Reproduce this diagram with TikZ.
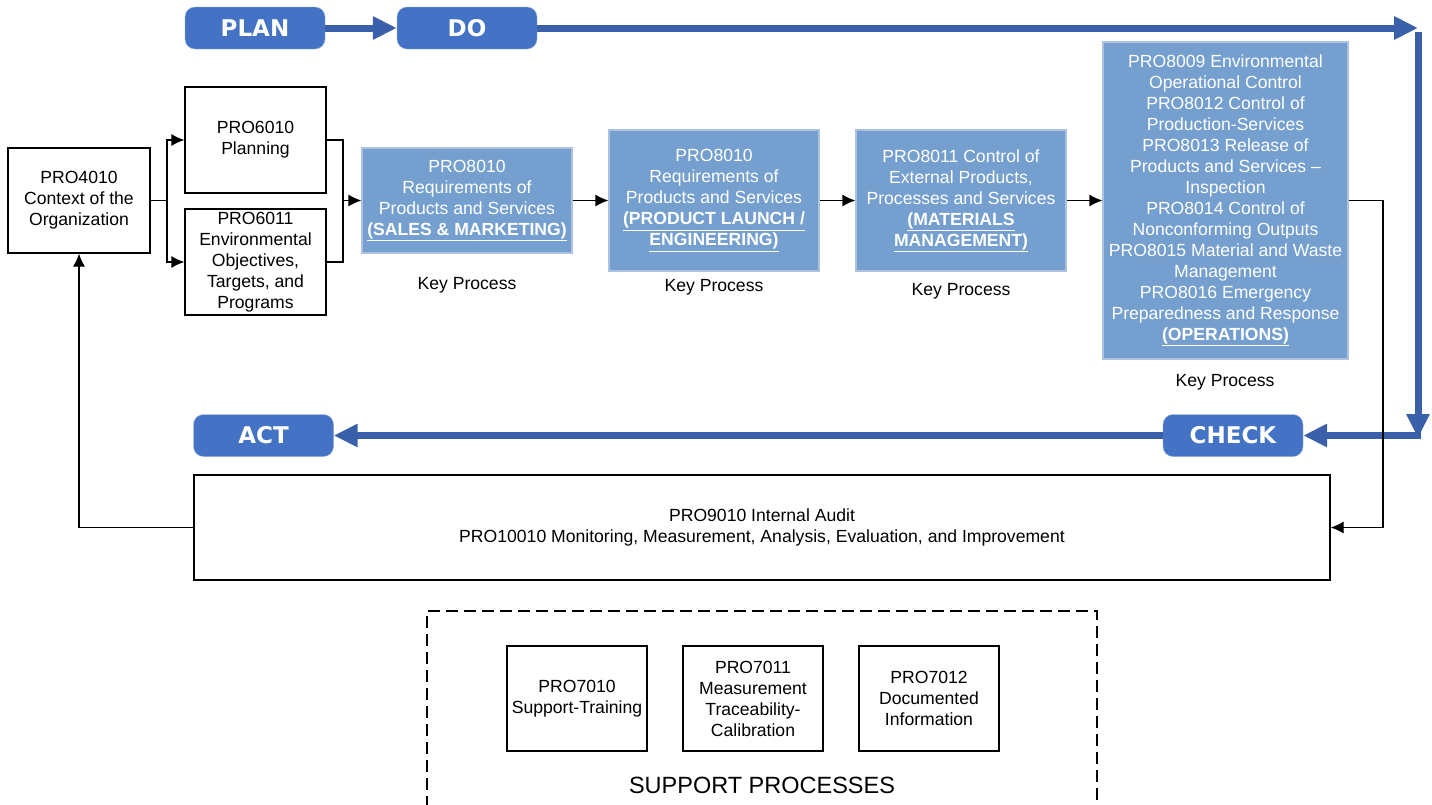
\documentclass[tikz,border=0pt]{standalone}
\usepackage{fontspec}
\setmainfont{Liberation Sans}
\newfontfamily\phasefont{DejaVu Sans}
\usetikzlibrary{arrows, arrows.meta, shapes}

\definecolor{phasefill}{RGB}{68,114,196}
\definecolor{phaseline}{RGB}{59,96,170}
\definecolor{keyfill}{RGB}{116,159,206}
\definecolor{keyedge}{RGB}{172,194,224}

\tikzset{
  phase/.style={rectangle, rounded corners=10pt, draw=phasefill!55!white, fill=phasefill, text=white,
    font=\phasefont\bfseries\fontsize{23}{26}\selectfont, minimum width=140pt, minimum height=42pt, inner sep=0pt},
  proc/.style={rectangle, draw, line width=1.2pt, align=center, inner sep=0pt,
    font=\fontsize{17.6}{21}\selectfont},
  keyproc/.style={rectangle, draw=keyedge, fill=keyfill, text=white, align=center, inner sep=0pt,
    line width=1.2pt, font=\fontsize{17.6}{21}\selectfont},
  keylabel/.style={font=\fontsize{17.6}{21}\selectfont},
  pdca/.style={line width=7pt, draw=phaseline, -{Triangle[length=24pt,width=22pt]}},
  flow/.style={line width=1.2pt, -{Latex[length=13pt,width=12pt]}}
}

\begin{document}
\begin{tikzpicture}[x=1pt, y=-1pt]
\useasboundingbox (0,0) rectangle (1432,804);

\node[phase] (plan) at (255,28)    {PLAN};
\node[phase] (do)   at (467,28)    {DO};
\node[phase] (check) at (1233,435.5) {CHECK};
\node[phase] (act)  at (263.5,435.5) {ACT};

\coordinate (ne) at (1418,28);
\coordinate (nedown) at (1418,32);
\coordinate (se) at (1418,438);
\coordinate (seleft) at (1421,435.5);

\draw[pdca] (plan) -- (do);
\draw[pdca] (do) -- (ne);
\draw[pdca] (nedown) -- (se);
\draw[pdca] (seleft) -- (check);
\draw[pdca] (check) -- (act);

\node[proc, minimum width=142pt, minimum height=105pt] (ctx) at (79,200.5)
  {PRO4010\\Context of the\\Organization};
\node[proc, minimum width=141pt, minimum height=106pt] (planning) at (255.5,140)
  {PRO6010\\Planning};
\node[proc, minimum width=141pt, minimum height=106pt] (objectives) at (255.5,262)
  {PRO6011\\Environmental\\Objectives,\\Targets, and\\Programs};

\node[keyproc, minimum width=210pt, minimum height=105pt] (sales) at (467,200.5)
  {PRO8010\\Requirements of\\Products and Services\\\textbf{\underline{(SALES \& MARKETING)}}};
\node[keyproc, minimum width=210pt, minimum height=141pt] (launch) at (714,200.5)
  {PRO8010\\Requirements of\\Products and Services\\\textbf{\underline{(PRODUCT LAUNCH /}}\\\textbf{\underline{ENGINEERING)}}};
\node[keyproc, minimum width=210pt, minimum height=141pt] (materials) at (961,200.5)
  {PRO8011 Control of\\External Products,\\Processes and Services\\\textbf{\underline{(MATERIALS}}\\\textbf{\underline{MANAGEMENT)}}};
\node[keyproc, minimum width=245pt, minimum height=317pt] (operations) at (1225.5,200.5)
  {PRO8009 Environmental\\Operational Control\\PRO8012 Control of\\Production-Services\\PRO8013 Release of\\Products and Services --\\Inspection\\PRO8014 Control of\\Nonconforming Outputs\\PRO8015 Material and Waste\\Management\\PRO8016 Emergency\\Preparedness and Response\\\textbf{\underline{(OPERATIONS)}}};

\node[keylabel] (salesk)      at (467,285)  {Key Process};
\node[keylabel] (launchk)     at (714,287)  {Key Process};
\node[keylabel] (materialsk)  at (961,291)  {Key Process};
\node[keylabel] (operationsk) at (1225,382) {Key Process};

\node[proc, minimum width=1136pt, minimum height=105pt] (audit) at (762,527.5)
  {PRO9010 Internal Audit\\PRO10010 Monitoring, Measurement, Analysis, Evaluation, and Improvement};

\coordinate (split) at (167,200.5);
\coordinate (merge) at (343,200.5);
\coordinate (drop)  at (1383,200.5);

\draw[line width=1.2pt] (ctx) -- (split);
\draw[flow] (split) |- (planning);
\draw[flow] (split) |- (objectives);
\draw[line width=1.2pt] (planning) -| (merge);
\draw[line width=1.2pt] (objectives) -| (merge);
\draw[flow] (merge) -- (sales);
\draw[flow] (sales) -- (launch);
\draw[flow] (launch) -- (materials);
\draw[flow] (materials) -- (operations);
\draw[flow] (operations) -- (drop) |- (audit);
\draw[flow] (audit) -| (ctx);

\draw[line width=1.2pt, dash pattern=on 12pt off 6pt] (427,808) -- (427,611) -- (1097,611) -- (1097,808);
\node[proc, minimum width=140pt, minimum height=105pt] (training) at (577,698.5)
  {PRO7010\\Support-Training};
\node[proc, minimum width=140pt, minimum height=105pt] (calibration) at (753,698.5)
  {PRO7011\\Measurement\\Traceability-\\Calibration};
\node[proc, minimum width=140pt, minimum height=105pt] (docinfo) at (929,698.5)
  {PRO7012\\Documented\\Information};
\node[font=\fontsize{23.5}{26}\selectfont] (support) at (762,785) {SUPPORT PROCESSES};
\end{tikzpicture}
\end{document}
